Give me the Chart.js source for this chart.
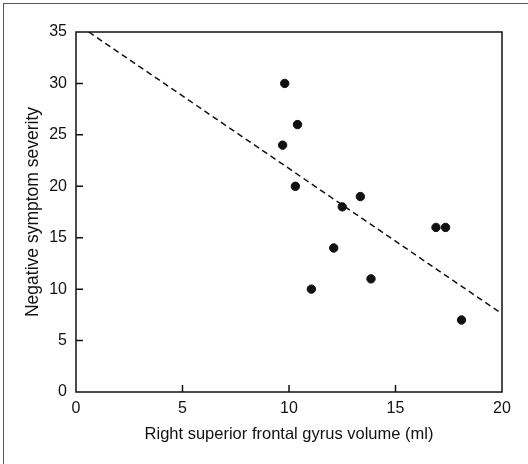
<!DOCTYPE html>
<html>
<head>
<meta charset="utf-8">
<script src="https://cdn.jsdelivr.net/npm/chart.js@4"></script>
<style>
  html, body { margin: 0; padding: 0; background: #fff; }
  #wrap { position: relative; width: 528px; height: 464px; }
  #frame { position: absolute; left: 3px; top: 3px; right: 0; bottom: 0;
           border-top: 1.5px solid #555; border-left: 1.5px solid #555; }
  canvas { position: absolute; left: 0; top: 0; }
</style>
</head>
<body>
<div id="wrap">
  <canvas id="chart" width="528" height="464"></canvas>
  <div id="frame"></div>
</div>
<script>
// gyrus volume (ml) vs negative symptom score, one point per patient
const volume   = [9.8, 10.4, 9.7, 10.3, 13.35, 12.5, 16.9, 17.35, 12.1, 13.85, 11.05, 18.1];
const severity = [30, 26, 24, 20, 19, 18, 16, 16, 14, 11, 10, 7];

// regression line end points
const fitX = [0.6, 20];
const fitY = [35, 7.6];

const xTicks = [0, 5, 10, 15, 20];
const yTicks = [0, 5, 10, 15, 20, 25, 30, 35];

const ink = '#111';
const font = 'Liberation Sans, Arial, sans-serif';

// box round the plot and short ticks pointing inwards
const frameTicks = {
    id: 'frameTicks',
    afterDraw(chart) {
        const { ctx, chartArea: a, scales: { x, y } } = chart;
        ctx.save();
        ctx.strokeStyle = ink;
        ctx.lineWidth = 1.5;
        ctx.strokeRect(a.left, a.top, a.right - a.left, a.bottom - a.top);
        ctx.beginPath();
        xTicks.slice(1, -1).forEach(v => {
            const px = x.getPixelForValue(v);
            ctx.moveTo(px, a.bottom);
            ctx.lineTo(px, a.bottom - 7);
        });
        yTicks.slice(1, -1).forEach(v => {
            const py = y.getPixelForValue(v);
            ctx.moveTo(a.left, py);
            ctx.lineTo(a.left + 7, py);
        });
        ctx.stroke();
        ctx.restore();
    }
};

new Chart(document.getElementById('chart'), {
    type: 'scatter',
    data: {
        datasets: [
            {
                data: volume.map((v, i) => ({ x: v, y: severity[i] })),
                backgroundColor: ink,
                borderColor: ink,
                pointRadius: 4.2,
                pointHoverRadius: 4.2
            },
            {
                type: 'line',
                data: fitX.map((v, i) => ({ x: v, y: fitY[i] })),
                borderColor: ink,
                borderWidth: 1.5,
                borderDash: [6, 4],
                pointRadius: 0,
                fill: false
            }
        ]
    },
    options: {
        responsive: false,
        animation: false,
        events: [],
        layout: { padding: { top: 32, right: 26, left: 0, bottom: 0 } },
        plugins: { legend: { display: false }, tooltip: { enabled: false } },
        scales: {
            x: {
                type: 'linear',
                min: 0,
                max: 20,
                afterBuildTicks: s => { s.ticks = xTicks.map(v => ({ value: v })); },
                afterFit: s => { s.height = 72; },
                grid: { display: false, drawTicks: false },
                border: { display: false },
                ticks: { color: ink, padding: 7, font: { family: font, size: 16 } },
                title: {
                    display: true,
                    text: 'Right superior frontal gyrus volume (ml)',
                    color: ink,
                    font: { family: font, size: 16.5 },
                    padding: { top: 0, bottom: 20 }
                }
            },
            y: {
                min: 0,
                max: 35,
                afterBuildTicks: s => { s.ticks = yTicks.map(v => ({ value: v })); },
                afterFit: s => { s.width = 76; },
                grid: { display: false, drawTicks: false },
                border: { display: false },
                ticks: { color: ink, padding: 9, font: { family: font, size: 16 } },
                title: {
                    display: true,
                    text: 'Negative symptom severity',
                    color: ink,
                    font: { family: font, size: 17.5 },
                    padding: { top: 23, bottom: 0 }
                }
            }
        }
    },
    plugins: [frameTicks]
});
</script>
</body>
</html>
